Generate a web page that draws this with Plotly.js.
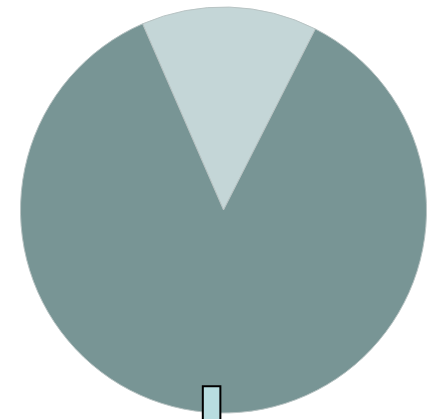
<!DOCTYPE html>
<html>
<head>
<meta charset="utf-8">
<script src="https://cdn.plot.ly/plotly-3.0.1.min.js"></script>
<style>html,body{margin:0;padding:0;background:#fff;}#chart{width:439px;height:419px;}</style>
</head>
<body>
<div id="chart"></div>
<script>
var labels = ["A", "B"];
var values = [14, 86];
var colors = ["#c4d6d7", "#789595"];

var trace = {
  type: "pie",
  labels: labels,
  values: values,
  marker: {colors: colors, line: {color: "#b9c4c4", width: 1}},
  sort: false,
  direction: "clockwise",
  rotation: -23.5,
  textinfo: "none",
  hoverinfo: "none",
  showlegend: false,
  domain: {x: [0.0456, 0.9727], y: [0.0143, 0.9833]}
};

var layout = {
  width: 439, height: 419,
  margin: {l: 0, r: 0, t: 0, b: 0},
  paper_bgcolor: "#ffffff",
  showlegend: false,
  shapes: [{
    type: "rect", xref: "paper", yref: "paper",
    x0: 0.462, x1: 0.502, y0: -0.02, y1: 0.078,
    fillcolor: "#b8dde0",
    line: {color: "#000000", width: 2}
  }]
};

Plotly.newPlot("chart", [trace], layout, {displayModeBar: false, staticPlot: true});
</script>
</body>
</html>
